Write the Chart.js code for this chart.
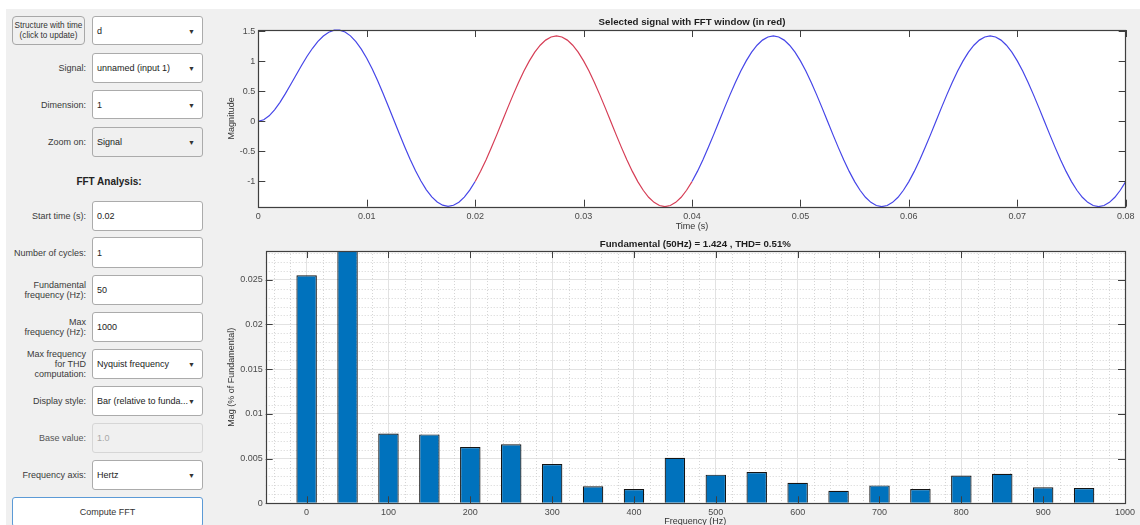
<!DOCTYPE html>
<html>
<head>
<meta charset="utf-8">
<script src="https://cdn.jsdelivr.net/npm/chart.js@4.4.1/dist/chart.umd.min.js"></script>
<style>
  html, body { margin: 0; padding: 0; width: 1140px; height: 525px; overflow: hidden; background: #fff; font-family: "Liberation Sans", Arial, sans-serif; }
  #bg { position: absolute; left: 6px; top: 9px; width: 1134px; height: 520px; background: #f0f0f0; }
  .lbl { position: absolute; left: 0; width: 86px; display: flex; align-items: center; justify-content: flex-end; text-align: right; font-size: 9px; line-height: 10px; color: #3a3a3a; }
  .ctl { position: absolute; left: 92px; width: 111px; box-sizing: border-box; border: 1px solid #ababab; border-radius: 3px; background: #fff; font-size: 9px; color: #222; display: flex; align-items: center; padding-left: 4px; }
  .ctl .arr { position: absolute; right: 7px; top: 50%; transform: translateY(-50%); font-size: 7px; color: #333; }
  .gray { background: #f0f0f0; }
  .off { background: #f0f0f0; border-color: #d6d6d6; color: #a8a8a8; }
  .btn { position: absolute; box-sizing: border-box; border: 1px solid #a8a8a8; border-radius: 4px; background: #f0f0f0; font-size: 8.2px; line-height: 10px; color: #333; display: flex; align-items: center; justify-content: center; text-align: center; }
  canvas { position: absolute; }
</style>
</head>
<body>
<div id="bg"></div>

<div class="btn" style="left:12px;top:16px;width:73px;height:29px;">Structure with time<br>(click to update)</div>
<div class="ctl" style="top:16px;height:29px;">d<span class="arr">&#9660;</span></div>

<div class="lbl" style="top:53px;height:30px;">Signal:</div>
<div class="ctl" style="top:53px;height:30px;">unnamed (input 1)<span class="arr">&#9660;</span></div>

<div class="lbl" style="top:90px;height:29px;">Dimension:</div>
<div class="ctl" style="top:90px;height:29px;">1<span class="arr">&#9660;</span></div>

<div class="lbl" style="top:127px;height:30px;">Zoom on:</div>
<div class="ctl gray" style="top:127px;height:30px;">Signal<span class="arr">&#9660;</span></div>

<div style="position:absolute;left:0;width:218px;top:176px;line-height:12px;text-align:center;font-size:10px;font-weight:bold;color:#222;">FFT Analysis:</div>

<div class="lbl" style="top:201px;height:30px;">Start time (s):</div>
<div class="ctl" style="top:201px;height:30px;">0.02</div>

<div class="lbl" style="top:237px;height:31px;">Number of cycles:</div>
<div class="ctl" style="top:237px;height:31px;">1</div>

<div class="lbl" style="top:275px;height:30px;">Fundamental<br>frequency (Hz):</div>
<div class="ctl" style="top:275px;height:30px;">50</div>

<div class="lbl" style="top:312px;height:30px;">Max<br>frequency (Hz):</div>
<div class="ctl" style="top:312px;height:30px;">1000</div>

<div class="lbl" style="top:349px;height:30px;">Max frequency<br>for THD<br>computation:</div>
<div class="ctl" style="top:349px;height:30px;">Nyquist frequency<span class="arr">&#9660;</span></div>

<div class="lbl" style="top:386px;height:30px;">Display style:</div>
<div class="ctl" style="top:386px;height:30px;">Bar (relative to funda...<span class="arr">&#9660;</span></div>

<div class="lbl" style="top:423px;height:30px;color:#555;">Base value:</div>
<div class="ctl off" style="top:423px;height:30px;">1.0</div>

<div class="lbl" style="top:460px;height:30px;">Frequency axis:</div>
<div class="ctl" style="top:460px;height:30px;">Hertz<span class="arr">&#9660;</span></div>

<div class="btn" style="left:12px;top:497px;width:191px;height:30px;background:#fff;border-color:#5c9ad6;border-radius:3px;font-size:9px;">Compute FFT</div>

<canvas id="signalChart" width="920" height="225" style="left:220px;top:10px;"></canvas>
<canvas id="fftChart" width="920" height="300" style="left:220px;top:235px;"></canvas>

<script>
// signal sampled every 0.5 ms from t = 0 to 0.08 s
const sampleStep = 0.0005;
const signalValues = [
  0, 0.024, 0.091, 0.190, 0.316, 0.461, 0.617, 0.777, 0.934, 1.084,
  1.218, 1.333, 1.423, 1.486, 1.519, 1.521, 1.489, 1.425, 1.329, 1.204,
  1.051, 0.875, 0.678, 0.468, 0.247, 0.020, -0.206, -0.425, -0.633, -0.826,
  -0.998, -1.144, -1.262, -1.348, -1.401, -1.420, -1.402, -1.351, -1.266, -1.150,
  -1.005, -0.835, -0.645, -0.440, -0.223, 0.000, 0.223, 0.440, 0.646, 0.837,
  1.007, 1.152, 1.269, 1.354, 1.406, 1.424, 1.406, 1.354, 1.269, 1.152,
  1.007, 0.837, 0.646, 0.440, 0.223, 0.000, -0.223, -0.440, -0.646, -0.837,
  -1.007, -1.152, -1.269, -1.354, -1.406, -1.424, -1.406, -1.354, -1.269, -1.152,
  -1.007, -0.837, -0.646, -0.440, -0.223, 0.000, 0.223, 0.440, 0.646, 0.837,
  1.007, 1.152, 1.269, 1.354, 1.406, 1.424, 1.406, 1.354, 1.269, 1.152,
  1.007, 0.837, 0.646, 0.440, 0.223, 0.000, -0.223, -0.440, -0.646, -0.837,
  -1.007, -1.152, -1.269, -1.354, -1.406, -1.424, -1.406, -1.354, -1.269, -1.152,
  -1.007, -0.837, -0.646, -0.440, -0.223, 0.000, 0.223, 0.440, 0.646, 0.837,
  1.007, 1.152, 1.269, 1.354, 1.406, 1.424, 1.406, 1.354, 1.269, 1.152,
  1.007, 0.837, 0.646, 0.440, 0.223, 0.000, -0.223, -0.440, -0.646, -0.837,
  -1.007, -1.152, -1.269, -1.354, -1.406, -1.424, -1.406, -1.354, -1.269, -1.152,
  -1.007
];
const fftWindow = [0.02, 0.04];
const timeTicks = [0, 0.01, 0.02, 0.03, 0.04, 0.05, 0.06, 0.07, 0.08];
const magTicks = [-1, -0.5, 0, 0.5, 1, 1.5];

// spectrum, % of fundamental (50 Hz bar is the fundamental itself)
const freqBins = [0, 50, 100, 150, 200, 250, 300, 350, 400, 450, 500, 550, 600, 650, 700, 750, 800, 850, 900, 950];
const harmonicMag = [0.0255, 100, 0.0078, 0.0077, 0.0063, 0.0066, 0.0044, 0.0019, 0.0016, 0.0051,
  0.0032, 0.0035, 0.0023, 0.0014, 0.0020, 0.0016, 0.0031, 0.0033, 0.0018, 0.0017];
const freqTicks = [0, 100, 200, 300, 400, 500, 600, 700, 800, 900, 1000];
const pctTicks = [0, 0.005, 0.01, 0.015, 0.02, 0.025];

const FONT = "'Liberation Sans', Arial, sans-serif";
const BLUE = 'rgb(70,70,232)';
const RED = 'rgb(214,62,86)';
const AXIS = '#3f3f3f';
const TICKTXT = '#4a4a4a';

// MATLAB look: white axes, box, inward ticks on all four sides, optional dotted minor grid
const matlabAxes = {
  id: 'matlabAxes',
  beforeDraw(chart) {
    const { ctx, chartArea: a } = chart;
    ctx.save();
    ctx.fillStyle = '#fff';
    ctx.fillRect(a.left, a.top, a.right - a.left, a.bottom - a.top);
    ctx.restore();
  },
  beforeDatasetsDraw(chart, args, opts) {
    if (!opts.minor) return;
    const { ctx, chartArea: a, scales: { x, y } } = chart;
    ctx.save();
    ctx.strokeStyle = '#d4d4d4';
    ctx.lineWidth = 1;
    ctx.setLineDash([1, 2]);
    ctx.beginPath();
    for (let v = Math.ceil(x.min / opts.minor.x) * opts.minor.x; v < x.max; v += opts.minor.x) {
      if (Math.abs(v % opts.major.x) < 1e-9) continue;
      const px = Math.round(x.getPixelForValue(v)) + 0.5;
      ctx.moveTo(px, a.top); ctx.lineTo(px, a.bottom);
    }
    for (let i = 1; i * opts.minor.y < y.max; i++) {
      if (i % Math.round(opts.major.y / opts.minor.y) === 0) continue;
      const py = Math.round(y.getPixelForValue(i * opts.minor.y)) + 0.5;
      ctx.moveTo(a.left, py); ctx.lineTo(a.right, py);
    }
    ctx.stroke();
    ctx.restore();
  },
  afterDatasetsDraw(chart) {
    const { ctx, chartArea: a, scales: { x, y } } = chart;
    const len = 7;
    ctx.save();
    ctx.strokeStyle = AXIS;
    ctx.lineWidth = 1;
    ctx.beginPath();
    x.ticks.forEach(t => {
      const px = Math.round(x.getPixelForValue(t.value)) + 0.5;
      ctx.moveTo(px, a.bottom); ctx.lineTo(px, a.bottom - len);
      ctx.moveTo(px, a.top); ctx.lineTo(px, a.top + len);
    });
    y.ticks.forEach(t => {
      const py = Math.round(y.getPixelForValue(t.value)) + 0.5;
      ctx.moveTo(a.left, py); ctx.lineTo(a.left + len, py);
      ctx.moveTo(a.right, py); ctx.lineTo(a.right - len, py);
    });
    ctx.stroke();
    ctx.lineWidth = 1.2;
    ctx.strokeRect(Math.round(a.left) + 0.5, Math.round(a.top) + 0.5,
      Math.round(a.right - a.left), Math.round(a.bottom - a.top));
    ctx.restore();
  }
};

function fixedTicks(list) {
  return scale => { scale.ticks = list.map(v => ({ value: v })); };
}

// Top: time signal with FFT window in red
const signalPoints = signalValues.map((v, i) => ({ x: i * sampleStep, y: v }));
const inWindow = c => c.p0.parsed.x >= fftWindow[0] - 1e-9 && c.p1.parsed.x <= fftWindow[1] + 1e-9;

new Chart(document.getElementById('signalChart'), {
  type: 'line',
  data: {
    datasets: [{
      data: signalPoints,
      borderColor: BLUE,
      borderWidth: 1.2,
      pointRadius: 0,
      tension: 0,
      clip: 3,
      segment: { borderColor: c => inWindow(c) ? RED : BLUE }
    }]
  },
  options: {
    responsive: false,
    animation: false,
    layout: { padding: { left: 0, right: 14.3, top: 0, bottom: 0 } },
    plugins: {
      legend: { display: false },
      tooltip: { enabled: false },
      title: {
        display: true,
        fullSize: false,
        text: 'Selected signal with FFT window (in red)',
        color: '#1e1e1e',
        font: { family: FONT, size: 9.7, weight: 'bold' },
        padding: { top: 6.2, bottom: 2.2 }
      }
    },
    scales: {
      x: {
        type: 'linear', min: 0, max: 0.08, offset: false,
        afterBuildTicks: fixedTicks(timeTicks),
        afterFit: s => { s.height = 28.3; },
        grid: { display: false, drawTicks: false },
        border: { display: false },
        ticks: { color: TICKTXT, font: { family: FONT, size: 9 }, padding: 4, maxRotation: 0, callback: v => String(v) },
        title: { display: true, text: 'Time (s)', color: '#333', font: { family: FONT, size: 9 }, padding: { top: 0, bottom: 2.9 } }
      },
      y: {
        min: -1.426, max: 1.522,
        afterBuildTicks: fixedTicks(magTicks),
        afterFit: s => { s.width = 38.3; },
        grid: { display: false, drawTicks: false },
        border: { display: false },
        ticks: { color: TICKTXT, font: { family: FONT, size: 9 }, padding: 3, callback: v => String(v) },
        title: { display: true, text: 'Magnitude', color: '#333', font: { family: FONT, size: 9 }, padding: { top: 6.6, bottom: 0 } }
      }
    }
  },
  plugins: [matlabAxes]
});

// Bottom: harmonic spectrum bars
new Chart(document.getElementById('fftChart'), {
  type: 'bar',
  data: {
    datasets: [{
      data: freqBins.map((f, i) => ({ x: f, y: harmonicMag[i] })),
      backgroundColor: '#0072bd',
      borderColor: '#141414',
      borderWidth: 1.2,
      borderSkipped: 'start',
      barPercentage: 0.5,
      categoryPercentage: 1
    }]
  },
  options: {
    responsive: false,
    animation: false,
    layout: { padding: { left: 0, right: 15, top: 0, bottom: 0 } },
    plugins: {
      legend: { display: false },
      tooltip: { enabled: false },
      title: {
        display: true,
        fullSize: false,
        text: 'Fundamental (50Hz) = 1.424 , THD= 0.51%',
        color: '#1e1e1e',
        font: { family: FONT, size: 9.7, weight: 'bold' },
        padding: { top: 3.2, bottom: 1.2 }
      },
      matlabAxes: { minor: { x: 20, y: 0.001 }, major: { x: 100, y: 0.005 } }
    },
    scales: {
      x: {
        type: 'linear', min: -50, max: 1000, offset: false,
        afterBuildTicks: fixedTicks(freqTicks),
        afterFit: s => { s.height = 31.7; },
        grid: { color: '#e2e2e2', lineWidth: 1, drawTicks: false, offset: false },
        border: { display: false },
        ticks: { color: TICKTXT, font: { family: FONT, size: 9 }, padding: 4, maxRotation: 0, callback: v => String(v) },
        title: { display: true, text: 'Frequency (Hz)', color: '#333', font: { family: FONT, size: 9 }, padding: { top: 0, bottom: 7.9 } }
      },
      y: {
        min: 0, max: 0.0282,
        afterBuildTicks: fixedTicks(pctTicks),
        afterFit: s => { s.width = 45.7; },
        grid: { color: '#e2e2e2', lineWidth: 1, drawTicks: false },
        border: { display: false },
        ticks: { color: TICKTXT, font: { family: FONT, size: 9 }, padding: 3, callback: v => String(v) },
        title: { display: true, text: 'Mag (% of Fundamental)', color: '#333', font: { family: FONT, size: 9 }, padding: { top: 6.6, bottom: 0 } }
      }
    }
  },
  plugins: [matlabAxes]
});
</script>
</body>
</html>
